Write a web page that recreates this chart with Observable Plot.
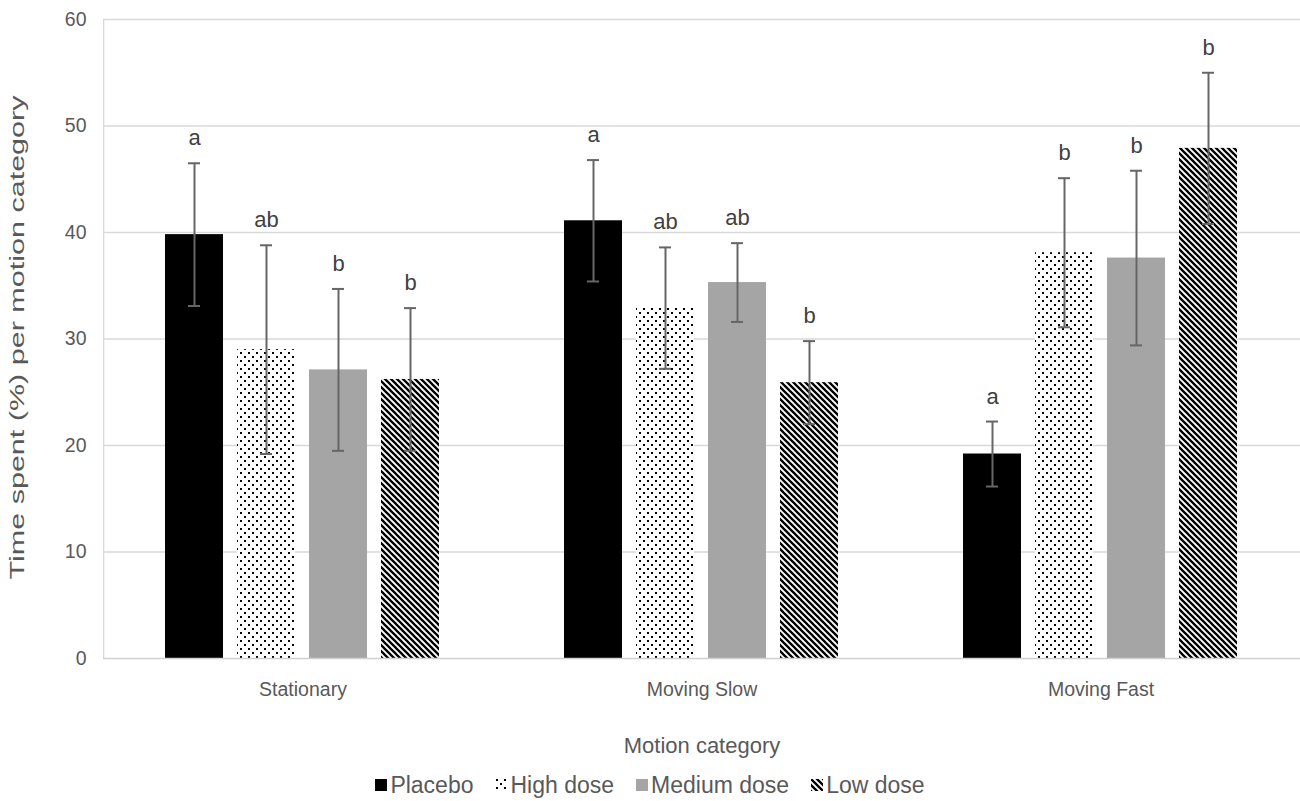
<!DOCTYPE html>
<html>
<head>
<meta charset="utf-8">
<script src="https://cdn.jsdelivr.net/npm/d3@7"></script>
<script src="https://cdn.jsdelivr.net/npm/@observablehq/plot@0.6"></script>
<style>
  html, body { margin: 0; padding: 0; background: #fff; overflow: hidden; }
  body { width: 1300px; height: 801px; font-family: "Liberation Sans", Arial, sans-serif; }
  #legend { display: flex; justify-content: center; align-items: center; gap: 22px;
            font-size: 23px; color: #595959; height: 30px; padding-left: 0px; }
  .item { display: flex; align-items: center; gap: 3px; }
  .item svg { display: block; }
</style>
</head>
<body>
<div id="chart"></div>
<div id="legend"></div>
<script>
const categories = ["Stationary", "Moving Slow", "Moving Fast"];
const treatments = ["Placebo", "High dose", "Medium dose", "Low dose"];
const treatmentFills = ["#000000", "url(#dots)", "#a5a5a5", "url(#stripes)"];

const stationaryMean = [39.8, 29.0, 27.1, 26.2];
const movingSlowMean = [41.1, 32.9, 35.3, 25.9];
const movingFastMean = [19.2, 38.1, 37.6, 47.9];

const stationaryErr = [6.7, 9.8, 7.6, 6.7];
const movingSlowErr = [5.7, 5.7, 3.7, 3.9];
const movingFastErr = [3.05, 7.0, 8.2, 7.1];

const stationaryLetters = ["a", "ab", "b", "b"];
const movingSlowLetters = ["a", "ab", "ab", "b"];
const movingFastLetters = ["a", "b", "b", "b"];

const yTicks = [0, 10, 20, 30, 40, 50, 60];
const yLabel = "Time spent (%) per motion category";
const xLabel = "Motion category";

const meansByCat = [stationaryMean, movingSlowMean, movingFastMean];
const errsByCat = [stationaryErr, movingSlowErr, movingFastErr];
const lettersByCat = [stationaryLetters, movingSlowLetters, movingFastLetters];

const data = [];
categories.forEach((c, i) => {
  treatments.forEach((t, j) => {
    const m = meansByCat[i][j], e = errsByCat[i][j];
    data.push({cat: c, group: t, mean: m, lo: m - e, hi: m + e, letter: lettersByCat[i][j]});
  });
});

const textColor = "#595959";
const errColor = "#666666";
const W = 1300, ML = 103, MR = 0;
const facetWidth = (W - ML - MR) / categories.length;

const chart = Plot.plot({
  width: W,
  height: 770,
  marginLeft: ML,
  marginRight: MR,
  marginTop: 19,
  marginBottom: 112,
  style: {fontFamily: "Liberation Sans, Arial, sans-serif", fontSize: "19.5px", color: textColor, background: "#fff"},
  fx: {domain: categories, padding: 0},
  x: {domain: treatments, paddingInner: 0.19, paddingOuter: 0.855, axis: null},
  y: {domain: [0, 60]},
  color: {domain: treatments, range: treatmentFills},
  marks: [
    Plot.ruleY(yTicks.filter(d => d > 0), {stroke: "#d9d9d9", strokeWidth: 1.3}),
    Plot.rect([{cat: categories[0]}], {fx: "cat", fill: "#d9d9d9", insetRight: facetWidth - 1.3}),
    Plot.barY(data, {fx: "cat", x: "group", y: "mean", fill: "group"}),
    Plot.ruleY([0], {stroke: "#d0d0d0", strokeWidth: 1.5}),
    Plot.ruleX(data, {fx: "cat", x: "group", y1: "lo", y2: "hi", stroke: errColor, strokeWidth: 2}),
    Plot.tickY(data, {fx: "cat", x: "group", y: "hi", stroke: errColor, strokeWidth: 2, insetLeft: 23, insetRight: 23}),
    Plot.tickY(data, {fx: "cat", x: "group", y: "lo", stroke: errColor, strokeWidth: 2, insetLeft: 23, insetRight: 23}),
    Plot.text(data, {fx: "cat", x: "group", y: "hi", text: "letter", lineAnchor: "bottom", dy: -18, fontSize: 22, fill: "#404040"}),
    Plot.axisY({ticks: yTicks, tickSize: 0, tickPadding: 17, fontSize: 19.5, label: null}),
    Plot.axisFx({anchor: "bottom", tickSize: 0, tickPadding: 24, fontSize: 19.5, label: null}),
    Plot.text([{cat: categories[0], t: yLabel}], {fx: "cat", text: "t", frameAnchor: "bottom-left", dx: -80, dy: -79, rotate: -90, textAnchor: "start", fontSize: 20, fill: textColor}),
    Plot.text([{cat: categories[1], t: xLabel}], {fx: "cat", text: "t", frameAnchor: "bottom", dy: 94, fontSize: 22, fill: textColor})
  ]
});

document.getElementById("chart").appendChild(chart);

const svg = d3.select(chart);

// stretch y label like the reference
svg.selectAll("text").filter(function() { return this.textContent === yLabel; })
  .attr("textLength", 484).attr("lengthAdjust", "spacingAndGlyphs");

// Patterns
const defs = svg.insert("defs", ":first-child");
const dots = defs.append("pattern").attr("id", "dots").attr("patternUnits", "userSpaceOnUse")
  .attr("width", 8).attr("height", 8);
dots.append("rect").attr("width", 8).attr("height", 8).attr("fill", "#fff");
dots.append("rect").attr("x", 0).attr("y", 0).attr("width", 2).attr("height", 2).attr("fill", "#000");
dots.append("rect").attr("x", 4).attr("y", 4).attr("width", 2).attr("height", 2).attr("fill", "#000");
const stripes = defs.append("pattern").attr("id", "stripes").attr("patternUnits", "userSpaceOnUse")
  .attr("width", 6).attr("height", 6);
stripes.append("rect").attr("width", 6).attr("height", 6).attr("fill", "#fff");
stripes.append("path").attr("d", "M-1,-1 L7,7 M-4,2 L2,8 M4,-2 L10,4")
  .attr("stroke", "#000").attr("stroke-width", 2.3);

// Legend
const legend = d3.select("#legend");
treatments.forEach((t, j) => {
  const item = legend.append("div").attr("class", "item");
  const s = item.append("svg").attr("width", 12).attr("height", 12);
  s.append("rect").attr("width", 12).attr("height", 12).attr("fill", treatmentFills[j]);
  item.append("span").text(t);
});
</script>
</body>
</html>
